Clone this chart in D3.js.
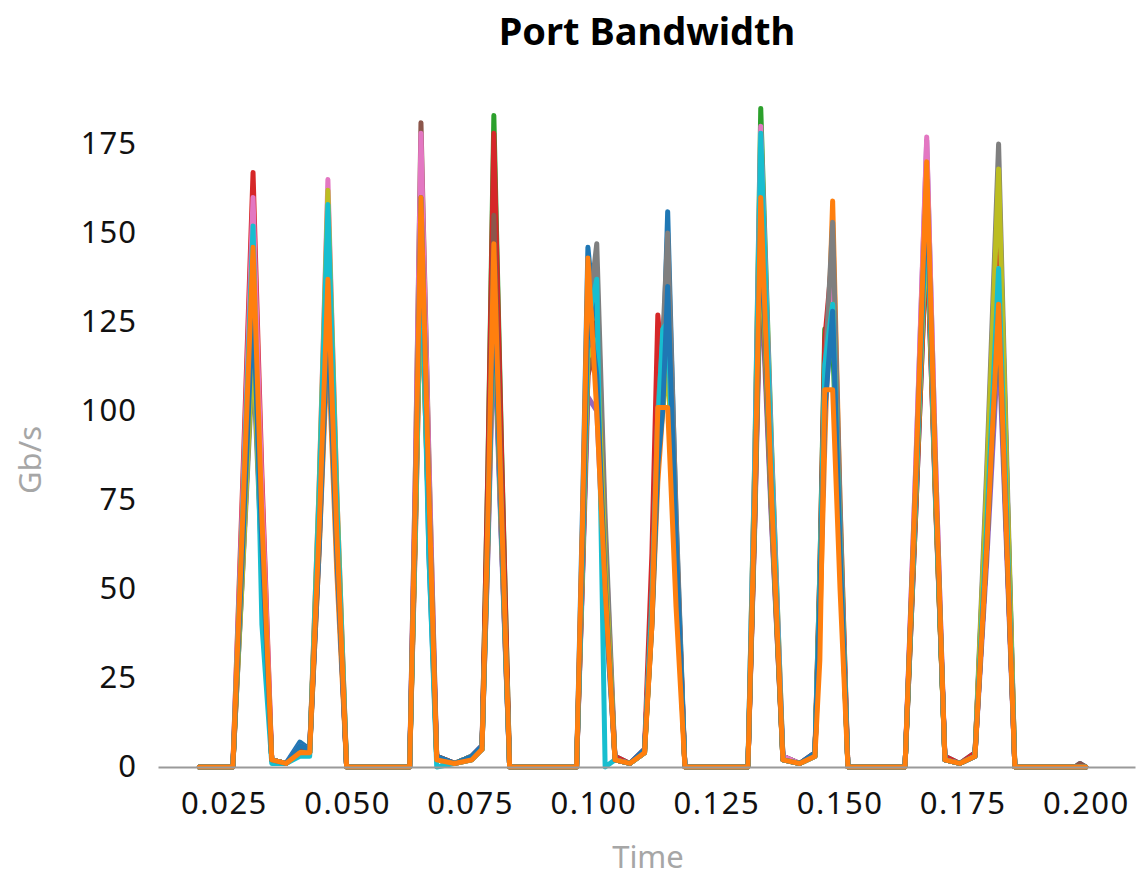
<!DOCTYPE html>
<html>
<head>
<meta charset="utf-8">
<script src="https://cdn.jsdelivr.net/npm/d3@7"></script>
<style>
body { margin: 0; background: #fff; }
#graph { width: 1140px; height: 877px; }
</style>
</head>
<body>
<div id="graph"></div>
<script>
// sample times (s), shared by every port
var times = [
	0.0200, 0.0268, 0.0288, 0.0309, 0.0327, 0.0347, 0.0376, 0.0404, 0.0424, 0.0443, 0.0461, 0.0479, 0.0499,
	0.0627, 0.0639, 0.0650, 0.0666, 0.0682, 0.0718, 0.0753, 0.0774, 0.0786, 0.0798, 0.0814, 0.0830,
	0.0966, 0.0978, 0.0989, 0.1007, 0.1024, 0.1044, 0.1074, 0.1104, 0.1119, 0.1131, 0.1141, 0.1151, 0.1168, 0.1186,
	0.1314, 0.1328, 0.1340, 0.1362, 0.1385, 0.1419, 0.1450, 0.1460, 0.1470, 0.1486, 0.1501, 0.1517,
	0.1633, 0.1655, 0.1677, 0.1695, 0.1714, 0.1744, 0.1775, 0.1799, 0.1823, 0.1840, 0.1856, 0.1978, 0.1988, 0.2000
];

// Gb/s per port
var port0 = [0,0,65,140,70,2,1,7,5,68,140,60,0, 0,80,170,60,3,1,3,6,75,130,62,0, 0,72,146,120,45,3,1,5,45,90,110,156,70,0, 0,75,165,78,3,1,4,45,100,140,65,0, 0,72,150,75,3,1,4,66,135,62,0,0,1,0];
var port1 = [0,0,60,130,62,2,1,5,4,60,120,55,0, 0,72,150,72,3,1,2,5,68,140,70,0, 0,66,135,115,55,2,1,4,40,80,100,140,66,0, 0,70,150,72,2,1,3,40,90,159,75,0, 0,78,160,78,2,1,3,62,125,60,0,0,0,0];
var port2 = [0,0,62,135,66,2,1,4,4,72,155,72,0, 0,70,150,74,2,1,3,5,85,183,88,0, 0,58,120,125,58,2,1,4,42,90,105,130,62,0, 0,88,185,90,3,1,3,55,123,120,58,0, 0,75,155,76,2,1,3,78,165,80,0,0,0,0];
var port3 = [0,0,80,167,82,2,1,5,5,70,150,70,0, 0,66,140,68,3,1,3,6,84,178,86,0, 0,54,110,120,55,3,1,5,60,127,110,120,58,0, 0,72,150,74,3,1,4,55,120,145,70,0, 0,72,150,74,3,1,4,74,157,76,0,0,0,0];
var port4 = [0,0,56,120,58,2,1,6,5,62,130,62,0, 0,74,155,76,2,1,3,6,60,125,60,0, 0,52,104,100,50,2,1,5,45,95,110,125,60,0, 0,68,140,68,3,1,3,46,100,130,62,0, 0,85,176,86,2,1,3,58,120,58,0,0,0,0];
var port5 = [0,0,60,125,60,2,1,5,4,64,135,64,0, 0,86,181,88,3,1,2,5,74,155,75,0, 0,54,110,125,60,2,1,4,48,100,120,140,66,0, 0,70,145,70,2,1,3,50,110,135,64,0, 0,78,160,78,2,1,3,62,130,62,0,0,1,0];
var port6 = [0,0,76,160,78,2,1,4,4,78,165,78,0, 0,85,178,86,2,1,3,5,64,135,64,0, 0,62,130,140,66,2,1,4,45,95,115,135,64,0, 0,86,180,88,3,1,3,48,105,140,66,0, 0,86,177,86,2,1,3,68,140,68,0,0,0,0];
var port7 = [0,0,55,115,56,2,1,4,4,60,125,60,0, 0,70,145,70,2,1,3,5,62,130,62,0, 0,60,125,147,70,2,1,4,48,100,120,150,72,0, 0,74,155,75,2,1,3,50,110,153,74,0, 0,80,165,80,2,1,3,84,175,84,0,0,0,0];
var port8 = [0,0,56,120,58,2,1,4,4,78,162,78,0, 0,68,140,68,2,1,3,5,64,135,64,0, 0,56,115,120,58,2,1,4,42,90,100,115,56,0, 0,72,150,72,2,1,3,50,108,130,62,0, 0,75,155,75,2,1,3,80,168,80,0,0,0,0];
var port9 = [0,0,72,152,40,1,1,3,3,76,158,75,0, 0,72,150,60,0,1,2,5,66,140,66,0, 0,60,125,137,0,2,1,4,45,95,123,125,60,0, 0,85,178,85,2,1,3,52,113,130,62,0, 0,78,160,78,2,1,3,68,140,68,0,0,0,0];
var port10 = [0,0,62,130,62,2,1,6,5,62,128,62,0, 0,78,160,78,3,1,3,6,66,138,66,0, 0,62,130,110,52,2,1,5,40,85,100,135,64,0, 0,74,155,74,2,1,4,46,100,128,60,0, 0,80,165,80,2,1,3,62,128,62,0,0,0,0];
var port11 = [0,0,70,146,70,2,1,4,4,66,137,66,0, 0,78,160,78,2,1,2,5,70,147,70,0, 0,68,143,100,50,2,1,4,40,101,101,101,45,0, 0,76,160,76,2,1,3,30,106,106,50,0, 0,82,170,82,2,1,3,62,130,62,0,0,0,0];

var ports = [port0, port1, port2, port3, port4, port5, port6, port7, port8, port9, port10, port11];

var xTicks = [0.025, 0.050, 0.075, 0.100, 0.125, 0.150, 0.175, 0.200];
var yTicks = [0, 25, 50, 75, 100, 125, 150, 175];

var graph_width = 1140;
var graph_height = 877;
var font = "'Noto Sans', sans-serif";

var graph = d3.select('#graph')
	.append('svg')
	.attr('width', graph_width)
	.attr('height', graph_height);

var x = d3.scaleLinear().domain([0.0116, 0.2100]).range([158, 1135]);
var y = d3.scaleLinear().domain([0, 190]).range([767, 767 - 190 * 3.56]);

var line = d3.line()
	.x(function(d, i) { return x(times[i]); })
	.y(function(d) { return y(d); });

graph.append('g')
	.selectAll('path')
	.data(ports)
	.enter()
	.append('path')
	.attr('d', line)
	.attr('fill', 'none')
	.attr('stroke', function(d, i) { return d3.schemeCategory10[i % 10]; })
	.attr('stroke-width', 5)
	.attr('stroke-linejoin', 'round')
	.attr('stroke-linecap', 'round');

// x axis
var xAxis = graph.append('g')
	.attr('transform', 'translate(0,767)')
	.call(d3.axisBottom(x).tickValues(xTicks).tickFormat(d3.format('.3f')).tickSize(0).tickSizeOuter(0).tickPadding(25));
xAxis.select('.domain').attr('stroke', '#9a9a9a').attr('stroke-width', 2);
xAxis.selectAll('text')
	.attr('fill', '#111')
	.style('font-family', font)
	.style('font-size', '31px')
	.style('letter-spacing', '1.5px');

// y axis
var yAxis = graph.append('g')
	.attr('transform', 'translate(158,0)')
	.call(d3.axisLeft(y).tickValues(yTicks).tickSize(0).tickPadding(21));
yAxis.select('.domain').remove();
yAxis.selectAll('text')
	.attr('fill', '#111')
	.style('font-family', font)
	.style('font-size', '31px')
	.style('letter-spacing', '1px');

graph.append('text')
	.attr('x', 647)
	.attr('y', 45)
	.attr('text-anchor', 'middle')
	.style('font-family', font)
	.style('font-weight', 'bold')
	.style('font-size', '38px')
	.attr('fill', '#000')
	.text('Port Bandwidth');

graph.append('text')
	.attr('x', 648)
	.attr('y', 868)
	.attr('text-anchor', 'middle')
	.style('font-family', font)
	.style('font-size', '31px')
	.attr('fill', '#a6a6a6')
	.text('Time');

graph.append('text')
	.attr('transform', 'translate(41,460) rotate(-90)')
	.attr('text-anchor', 'middle')
	.style('font-family', font)
	.style('font-size', '31px')
	.attr('fill', '#a6a6a6')
	.text('Gb/s');
</script>
</body>
</html>
